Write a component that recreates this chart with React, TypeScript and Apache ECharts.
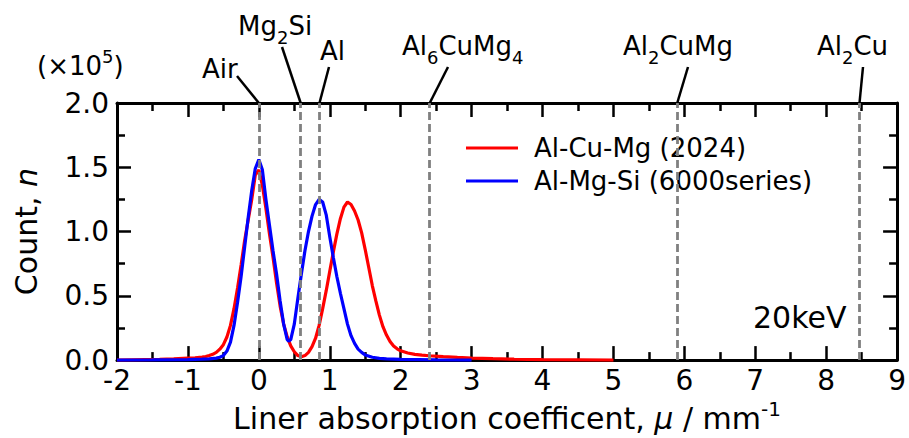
import React, { useEffect, useRef } from "react";
import * as echarts from "echarts";

// ---- data ----
const redMu = [
  -2.0, -1.8, -1.6, -1.4, -1.2, -1.0, -0.9, -0.8, -0.75, -0.7, -0.65, -0.6, -0.55, -0.5, -0.45, -0.4, -0.35, -0.3,
  -0.25, -0.2, -0.15, -0.1, -0.05, 0.0, 0.05, 0.1, 0.15, 0.2, 0.25, 0.3, 0.35, 0.4, 0.45, 0.5, 0.55, 0.6, 0.65, 0.7,
  0.75, 0.8, 0.85, 0.9, 0.95, 1.0, 1.05, 1.1, 1.15, 1.2, 1.25, 1.3, 1.35, 1.4, 1.45, 1.5, 1.55, 1.6, 1.65, 1.7, 1.75,
  1.8, 1.85, 1.9, 1.95, 2.0, 2.1, 2.2, 2.3, 2.4, 2.6, 2.8, 3.0, 3.3, 3.6, 4.0, 4.5, 5.0,
];
const redCount = [
  0.0, 0.002, 0.004, 0.006, 0.009, 0.015, 0.018, 0.023, 0.028, 0.035, 0.045, 0.06, 0.085, 0.12, 0.18, 0.27, 0.4, 0.56,
  0.74, 0.93, 1.09, 1.25, 1.44, 1.48, 1.36, 1.18, 0.98, 0.8, 0.6, 0.42, 0.28, 0.18, 0.11, 0.065, 0.035, 0.026, 0.035,
  0.06, 0.105, 0.17, 0.27, 0.4, 0.54, 0.69, 0.84, 0.98, 1.1, 1.19, 1.23, 1.21, 1.16, 1.09, 0.99, 0.86, 0.72, 0.58,
  0.46, 0.35, 0.26, 0.195, 0.145, 0.11, 0.088, 0.072, 0.055, 0.045, 0.039, 0.034, 0.027, 0.021, 0.016, 0.011, 0.007,
  0.004, 0.002, 0.0,
];
const blueMu = [
  -2.0, -1.5, -1.0, -0.8, -0.7, -0.6, -0.55, -0.5, -0.45, -0.4, -0.35, -0.3, -0.25, -0.2, -0.15, -0.1, -0.05, 0.0,
  0.05, 0.1, 0.15, 0.2, 0.25, 0.3, 0.35, 0.4, 0.42, 0.45, 0.5, 0.55, 0.6, 0.65, 0.7, 0.75, 0.8, 0.85, 0.9, 0.95, 1.0,
  1.05, 1.1, 1.15, 1.2, 1.25, 1.3, 1.35, 1.4, 1.45, 1.5, 1.6, 1.7, 1.8, 2.0, 2.5, 3.0,
];
const blueCount = [
  0.0, 0.001, 0.004, 0.007, 0.01, 0.015, 0.022, 0.035, 0.07, 0.14, 0.27, 0.45, 0.65, 0.88, 1.11, 1.32, 1.49, 1.56,
  1.48, 1.25, 1.05, 0.85, 0.67, 0.46, 0.28, 0.16, 0.146, 0.16, 0.28, 0.48, 0.67, 0.85, 1.0, 1.12, 1.21, 1.25, 1.23,
  1.13, 0.96, 0.8, 0.65, 0.52, 0.4, 0.28, 0.19, 0.13, 0.085, 0.06, 0.04, 0.022, 0.014, 0.01, 0.005, 0.002, 0.0,
];
const seriesNames = ["Al-Cu-Mg (2024)", "Al-Mg-Si (6000series)"];
const phaseLabels = [
  "{m|Air}",
  "{m|Mg}{s|2}{m|Si}",
  "{m|Al}",
  "{m|Al}{s|6}{m|CuMg}{s|4}",
  "{m|Al}{s|2}{m|CuMg}",
  "{m|Al}{s|2}{m|Cu}",
];
const phaseMu = [0, 0.59, 0.855, 2.41, 5.9, 8.47];
const xMin = -2;
const xMax = 9;
const xStep = 1;
const yMin = 0;
const yMax = 2;
const yStep = 0.5;
const energyLabel = "20keV";

const FONT = "DejaVu Sans";

export default function App() {
  const ref = useRef<HTMLDivElement>(null);
  useEffect(() => {
    document.body.style.margin = "0";
    const chart = echarts.init(ref.current!, null, { renderer: "svg" });
    const grid = { left: 117, right: 8, top: 103, bottom: 74 };
    const axisLine = { show: true, onZero: false, lineStyle: { color: "#000", width: 3 } };
    const axisTick = { show: true, inside: true, length: 14, lineStyle: { color: "#000", width: 2.5 } };
    const minorTick = { show: true, splitNumber: 2, length: 8, lineStyle: { color: "#000", width: 2.5 } };
    const labelStyle = { fontSize: 28, fontFamily: FONT, color: "#000" };

    const option: any = {
      animation: false,
      backgroundColor: "#fff",
      grid,
      legend: {
        data: seriesNames,
        orient: "vertical",
        left: 466,
        top: 133,
        padding: 0,
        icon: "rect",
        itemWidth: 52,
        itemHeight: 3,
        itemGap: 3,
        textStyle: { fontSize: 26, fontFamily: FONT, color: "#000", lineHeight: 30, padding: [0, 0, 0, 11] },
      },
      xAxis: [
        {
          type: "value",
          min: xMin,
          max: xMax,
          interval: xStep,
          position: "bottom",
          axisLine,
          axisTick,
          minorTick,
          splitLine: { show: false },
          minorSplitLine: { show: false },
          axisLabel: { ...labelStyle, margin: 6, showMinLabel: true, showMaxLabel: true, formatter: (v: number) => String(v) },
          name: "{m|Liner absorption coefficent, }{i|μ}{m| / mm}{sup|-1}",
          nameLocation: "middle",
          nameGap: 30,
          nameTextStyle: {
            color: "#000",
            fontFamily: FONT,
            fontSize: 30,
            rich: {
              m: { fontSize: 30, fontFamily: FONT, color: "#000", verticalAlign: "top", padding: [4, 0, 0, 0] },
              i: { fontSize: 30, fontFamily: FONT, fontStyle: "italic", color: "#000", verticalAlign: "top", padding: [4, 0, 0, 0] },
              sup: { fontSize: 20, fontFamily: FONT, color: "#000", verticalAlign: "top", padding: [0, 0, 0, 0] },
            },
          },
        },
        {
          type: "value",
          min: xMin,
          max: xMax,
          interval: xStep,
          position: "top",
          axisLine,
          axisTick,
          minorTick,
          splitLine: { show: false },
          axisLabel: { show: false },
        },
      ],
      yAxis: [
        {
          type: "value",
          min: yMin,
          max: yMax,
          interval: yStep,
          position: "left",
          axisLine,
          axisTick,
          minorTick,
          splitLine: { show: false },
          minorSplitLine: { show: false },
          axisLabel: { ...labelStyle, margin: 8, formatter: (v: number) => v.toFixed(1) },
          name: "{m|Count, }{i|n}",
          nameLocation: "middle",
          nameGap: 76,
          nameTextStyle: {
            color: "#000",
            fontFamily: FONT,
            fontSize: 30,
            rich: {
              m: { fontSize: 30, fontFamily: FONT, color: "#000" },
              i: { fontSize: 30, fontFamily: FONT, fontStyle: "italic", color: "#000" },
            },
          },
        },
        {
          type: "value",
          min: yMin,
          max: yMax,
          interval: yStep,
          position: "right",
          axisLine,
          axisTick,
          minorTick,
          splitLine: { show: false },
          axisLabel: { show: false },
        },
      ],
      series: [
        {
          name: seriesNames[0],
          type: "line",
          xAxisIndex: 0,
          yAxisIndex: 0,
          data: redMu.map((m, i) => [m, redCount[i]]),
          showSymbol: false,
          color: "#ff0000",
          lineStyle: { color: "#ff0000", width: 3.2 },
          z: 2,
          markLine: {
            silent: true,
            symbol: ["none", "none"],
            label: { show: false },
            lineStyle: { type: [8, 4], color: "#808080", width: 2.8 },
            data: phaseMu.map((v) => ({ xAxis: v })),
          },
        },
        {
          name: seriesNames[1],
          type: "line",
          xAxisIndex: 0,
          yAxisIndex: 0,
          data: blueMu.map((m, i) => [m, blueCount[i]]),
          showSymbol: false,
          color: "#0000ff",
          lineStyle: { color: "#0000ff", width: 3.2 },
          z: 3,
        },
      ],
    };
    chart.setOption(option);

    const richTop = {
      m: { fontSize: 26, fontFamily: FONT, fill: "#000", verticalAlign: "top", padding: [0, 0, 0, 0] },
      s: { fontSize: 18, fontFamily: FONT, fill: "#000", verticalAlign: "top", padding: [15, 0, 0, 0] },
    };
    const labelLayout = [
      { left: 202, base: 78, from: [237, 76] },
      { left: 238, base: 35, from: [282, 47] },
      { left: 320, base: 60, from: [329, 67] },
      { left: 402, base: 55, from: [448, 67] },
      { left: 623, base: 55, from: [688, 67] },
      { left: 817, base: 55, from: [863, 67] },
    ];
    const graphics: any[] = [];
    phaseMu.forEach((mu, i) => {
      const px = chart.convertToPixel({ xAxisIndex: 0 }, mu) as number;
      const L = labelLayout[i];
      graphics.push({
        type: "line",
        silent: true,
        shape: { x1: L.from[0], y1: L.from[1], x2: px, y2: grid.top },
        style: { stroke: "#000", lineWidth: 2.5 },
      });
      graphics.push({
        type: "text",
        silent: true,
        x: L.left,
        y: L.base - 21.6,
        style: { text: phaseLabels[i], rich: richTop, align: "left", verticalAlign: "top", fill: "#000", fontSize: 26, fontFamily: FONT },
      });
    });
    graphics.push({
      type: "text",
      silent: true,
      x: 37,
      y: 47.4,
      style: {
        text: "{m|(×10}{p|5}{m|)}",
        align: "left",
        verticalAlign: "top",
        fill: "#000",
        fontSize: 26,
        fontFamily: FONT,
        rich: {
          m: { fontSize: 26, fontFamily: FONT, fill: "#000", verticalAlign: "top", padding: [6, 0, 0, 0] },
          p: { fontSize: 18, fontFamily: FONT, fill: "#000", verticalAlign: "top", padding: [0, 0, 0, 0] },
        },
      },
    });
    graphics.push({
      type: "text",
      silent: true,
      x: 753,
      y: 317,
      style: { text: energyLabel, align: "left", verticalAlign: "middle", fill: "#000", fontSize: 30, fontFamily: FONT },
    });
    chart.setOption({ graphic: graphics });

    return () => chart.dispose();
  }, []);
  return <div ref={ref} style={{ width: 909, height: 438 }} />;
}
